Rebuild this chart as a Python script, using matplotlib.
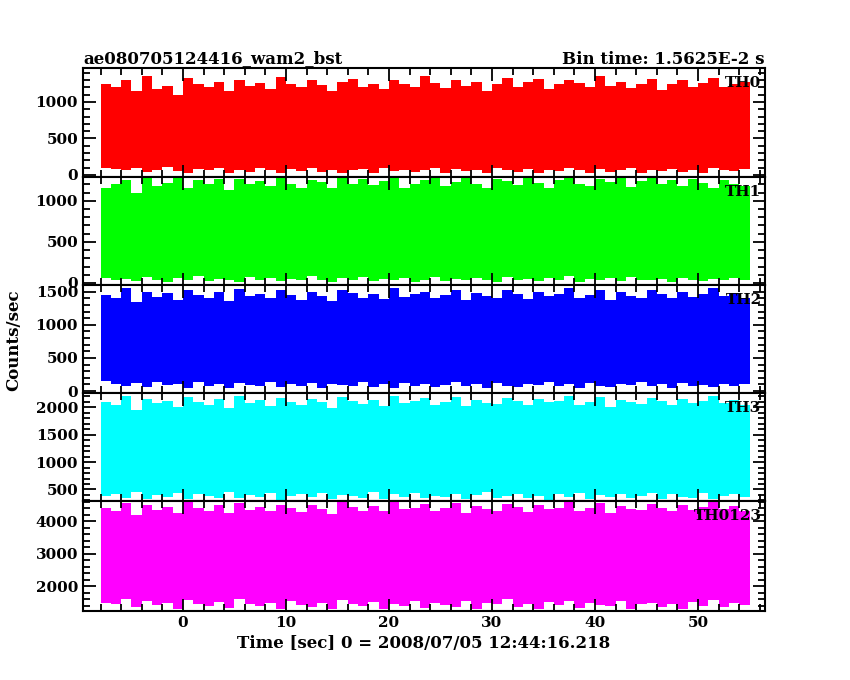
import numpy as np
import matplotlib
matplotlib.use("Agg")
import matplotlib.pyplot as plt
from matplotlib.ticker import MultipleLocator

# 1-second bin edges from -8 to 55 s (per-bin extremes)
t_edges = list(range(-8, 56))
th0_hi = [1250,1200,1300,1150,1350,1180,1220,1100,1330,1250,1200,1280,1150,1300,1220,1260,1180,1340,1250,1200,
          1300,1230,1150,1280,1320,1200,1250,1180,1300,1240,1210,1350,1260,1190,1300,1220,1280,1150,1250,1330,
          1200,1270,1310,1180,1240,1300,1260,1200,1350,1220,1280,1190,1250,1320,1170,1240,1300,1210,1260,1330,1200,1250,1280]
th0_lo = [100,80,60,90,40,70,110,50,30,80,60,90,20,70,40,100,60,30,80,50,
          90,40,70,20,60,80,30,90,50,70,40,60,100,30,80,50,70,20,90,60,
          40,80,30,70,50,100,60,20,80,40,70,90,30,60,50,80,40,70,20,90,60,50,80]
th1_hi = [1150,1200,1250,1100,1280,1180,1220,1290,1150,1250,1200,1270,1130,1260,1210,1240,1180,1290,1200,1160,
          1250,1230,1150,1280,1200,1270,1190,1240,1290,1160,1210,1250,1280,1180,1230,1290,1200,1150,1260,1240,
          1190,1280,1220,1160,1250,1290,1210,1180,1260,1230,1280,1170,1240,1290,1200,1250,1180,1270,1220,1160,1250,1200,1180]
th1_lo = [60,30,50,20,70,40,10,60,30,80,20,50,40,10,70,30,60,20,50,40,
          80,30,10,60,40,70,20,50,30,60,10,40,70,20,50,30,60,40,10,70,
          30,50,20,60,40,80,10,50,30,60,20,70,40,30,50,10,60,40,20,50,30,60,40]
th2_hi = [1450,1400,1550,1350,1500,1420,1480,1380,1520,1450,1400,1500,1360,1540,1430,1470,1400,1520,1450,1380,
          1500,1440,1360,1530,1480,1410,1460,1390,1550,1420,1470,1500,1400,1450,1520,1380,1480,1440,1410,1530,
          1460,1390,1500,1430,1470,1550,1400,1450,1520,1380,1490,1440,1410,1530,1460,1400,1500,1420,1470,1550,1430,1480,1400]
th2_lo = [150,100,80,120,60,140,90,110,50,130,80,100,40,120,90,70,140,60,100,80,
          120,50,110,90,70,130,60,100,40,120,80,110,60,90,140,70,100,50,120,80,
          60,110,90,130,70,100,50,120,80,60,110,90,140,70,100,50,120,80,90,60,110,70,100]
th3_hi = [2100,2050,2200,1950,2150,2080,2120,2000,2180,2100,2050,2150,1980,2200,2070,2130,2020,2170,2100,2040,
          2150,2090,1990,2180,2120,2060,2140,2030,2200,2080,2110,2160,2050,2100,2190,2020,2130,2080,2060,2170,
          2110,2040,2150,2090,2120,2200,2050,2100,2180,2010,2140,2090,2060,2170,2110,2050,2150,2070,2120,2200,2080,2130,2050]
th3_lo = [380,420,350,450,330,400,370,440,320,410,380,350,460,340,400,370,430,310,390,420,
          360,440,330,400,380,350,450,320,410,370,430,340,390,360,420,330,400,450,350,380,
          420,340,390,310,410,370,440,330,400,360,420,350,380,440,330,410,370,350,430,320,390,420,360]
th4_hi = [4400,4300,4550,4200,4500,4350,4450,4250,4600,4400,4300,4500,4250,4550,4350,4450,4300,4500,4400,4280,
          4500,4380,4220,4580,4450,4320,4480,4300,4600,4360,4420,4520,4300,4400,4560,4260,4460,4360,4320,4540,
          4440,4280,4500,4380,4420,4600,4320,4400,4560,4240,4480,4380,4340,4540,4420,4300,4500,4350,4440,4600,4360,4460,4300]
th4_lo = [1500,1450,1600,1350,1550,1420,1480,1300,1580,1460,1400,1520,1320,1600,1440,1380,1500,1290,1540,1420,
          1360,1500,1310,1580,1440,1380,1520,1300,1460,1400,1560,1330,1480,1420,1370,1540,1310,1490,1440,1600,
          1350,1470,1300,1520,1410,1560,1340,1480,1420,1380,1540,1310,1460,1500,1350,1440,1300,1520,1400,1580,1360,1480,1420]

labels = ["TH0", "TH1", "TH2", "TH3", "TH0123"]
colors = ["#ff0000", "#00ff00", "#0000ff", "#00ffff", "#ff00ff"]
highs = [th0_hi, th1_hi, th2_hi, th3_hi, th4_hi]
lows = [th0_lo, th1_lo, th2_lo, th3_lo, th4_lo]
ylims = [(-30, 1466), (-25, 1290), (-30, 1600), (290, 2260), (1240, 4620)]
yticks = [[0, 500, 1000], [0, 500, 1000], [0, 500, 1000, 1500], [500, 1000, 1500, 2000], [2000, 3000, 4000]]
yminor = [100, 100, 100, 100, 200]

plt.rcParams["font.family"] = "DejaVu Serif"
plt.rcParams["font.weight"] = "bold"
fig = plt.figure(figsize=(8.5, 6.8), dpi=100)
tops = [68, 177, 285, 393, 501, 611]
W, H = 850, 680
axes = []
for i in range(5):
    ax = fig.add_axes([83 / W, 1 - tops[i + 1] / H, (765 - 83) / W, (tops[i + 1] - tops[i]) / H])
    axes.append(ax)
    hi = highs[i] + [highs[i][-1]]
    lo = lows[i] + [lows[i][-1]]
    ax.fill_between(t_edges, lo, hi, step="post", color=colors[i], lw=0)
    ax.set_xlim(-9.7, 56.5)
    ax.set_ylim(*ylims[i])
    ax.set_yticks(yticks[i])
    ax.yaxis.set_minor_locator(MultipleLocator(yminor[i]))
    ax.xaxis.set_major_locator(MultipleLocator(10))
    ax.xaxis.set_minor_locator(MultipleLocator(2))
    ax.tick_params(which="both", direction="in", top=True, right=True, labelsize=11, width=1.3)
    ax.tick_params(which="major", length=9)
    ax.tick_params(which="minor", length=5)
    for s in ax.spines.values():
        s.set_linewidth(1.5)
    ax.text(0.995, 0.93, labels[i], transform=ax.transAxes, ha="right", va="top",
            fontsize=11, fontweight="bold")
    if i < 4:
        ax.tick_params(labelbottom=False)

axes[0].set_title("ae080705124416_wam2_bst", loc="left", fontsize=12, fontweight="bold", pad=3)
axes[0].set_title("Bin time: 1.5625E-2 s", loc="right", fontsize=12, fontweight="bold", pad=3)
axes[4].set_xlabel("Time [sec] 0 = 2008/07/05 12:44:16.218", fontsize=12, fontweight="bold")
fig.text(14 / W, 1 - 340 / H, "Counts/sec", rotation=90, va="center", ha="center", fontsize=12, fontweight="bold")
fig.savefig("out.png", dpi=100)
